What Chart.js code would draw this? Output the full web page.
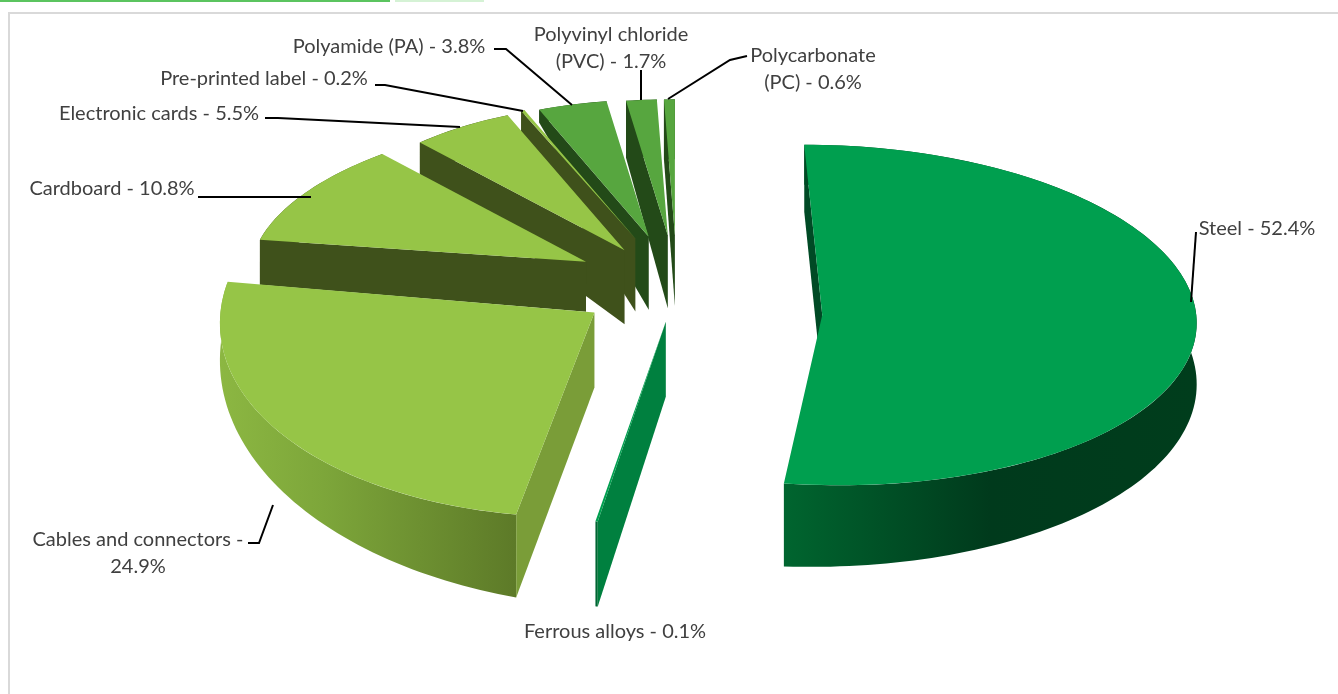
<!DOCTYPE html>
<html>
<head>
<meta charset="utf-8">
<style>
  html, body { margin: 0; padding: 0; background: #fff; }
  canvas { display: block; }
</style>
<script src="https://cdn.jsdelivr.net/npm/chart.js@4"></script>
</head>
<body>
<canvas id="myChart" width="1338" height="694"></canvas>
<script>
// data
const categories = ['Steel', 'Ferrous alloys', 'Cables and connectors', 'Cardboard', 'Electronic cards', 'Pre-printed label', 'Polyamide (PA)', 'Polyvinyl chloride (PVC)', 'Polycarbonate (PC)']
const shares = [52.4, 0.1, 24.9, 10.8, 5.5, 0.2, 3.8, 1.7, 0.6]

// slice look
const topColors = ['#009f4f', '#00a050', '#96c547', '#96c547', '#96c547', '#96c547', '#57a63f', '#57a63f', '#57a63f']
const sideColors = ['#004a25', '#00803f', '#7a9d38', '#3f511b', '#3f511b', '#3f511b', '#234a18', '#234a18', '#234a18']
const rimStops = [
  [['#00652f', 0], ['#003a1c', 0.5], ['#003d1c', 1]],
  [['#006633', 0], ['#006633', 1]],
  [['#8cb742', 0], ['#7da63a', 0.35], ['#5d7a28', 1]],
  null, null, null, null, null, null
]
// explosion as a share of the radius. the library's own offset eats thin slices so it is done here
const explode = [0.36, 0.3, 0.3, 0.3, 0.3, 0.3, 0.3, 0.3, 0.3]

// tweaks for the excel 3d camera
const nudgeX = [3, -2, 0, 0, 0, -7, -7, -7, -8]
const nudgeY = [31, -9, 3, 5, 11, 3, 3, 3, 3]
const sliceShear = [18, -12, -20, -30, 0, 0, 0, 0, 0]
const sliceStretch = [1.01, 0.92, 1.05, 1, 1.1, 1.06, 1.06, 1.06, 1.06]
const apexDepth = [70, 75, 75, 50, 74, 73, 73, 73, 71]
const startDepth = [67, 85, 83, 45, 32, 21, 13, 57, 60]
const rimStartDepth = [40, 85, 83, 45, 32, 21, 13, 57, 60]
const rimEndDepth = [83, 85, 30, 45, 32, 21, 13, 57, 60]

// labels
const labelLines = [
  ['Steel - 52.4%'],
  ['Ferrous alloys - 0.1%'],
  ['Cables and connectors -', '24.9%'],
  ['Cardboard - 10.8%'],
  ['Electronic cards - 5.5%'],
  ['Pre-printed label - 0.2%'],
  ['Polyamide (PA) - 3.8%'],
  ['Polyvinyl chloride', '(PVC) - 1.7%'],
  ['Polycarbonate', '(PC) - 0.6%']
]
const labelX = [1257, 615, 138, 112, 159, 264, 389, 611, 813]
const labelY = [229, 632, 540, 189, 114, 79, 47, 35, 56]
const leaderPaths = [
  [[1196, 232], [1191, 302]],
  [],
  [[248, 543], [259, 543], [273, 505]],
  [[198, 197], [311, 197]],
  [[265, 118], [278, 118], [460, 127]],
  [[375, 85], [385, 85], [523, 111]],
  [[494, 49], [506, 49], [572, 105]],
  [[641, 70], [641, 100]],
  [[747, 56], [730, 60], [668, 99]]
]

const X0 = 685, Y0 = 279.5, RX = 374, KY = 165, BEND = 0.15

function sliceMap(arc, i) {
  let mid = (arc.startAngle + arc.endAngle) / 2
  let R = arc.outerRadius
  let Ua = Math.cos(mid) * explode[i]
  let Va = Math.sin(mid) * explode[i]
  let Vc = Va + 0.6 * Math.sin(mid)

  let sx = RX * (1 + 0.25 * Math.min(0, Vc)) / R
  let sy = sliceStretch[i] * KY / Math.pow(1 - BEND * Vc, 2) / R
  let k = sliceShear[i] / R
  let px = X0 + RX * Ua + nudgeX[i]
  let py = Y0 + KY * Va / (1 - BEND * Va) + nudgeY[i]

  return {
    R, sx, sy, k, px, py,
    rim: (a) => [px + sx * R * Math.cos(a) + k * R * Math.sin(a), py + sy * R * Math.sin(a)]
  }
}

function fillPoly(ctx, pts, fill) {
  ctx.fillStyle = fill
  ctx.beginPath()
  pts.forEach((p, n) => n ? ctx.lineTo(p[0], p[1]) : ctx.moveTo(p[0], p[1]))
  ctx.closePath()
  ctx.fill()
}

function drawSlice(ctx, arc, i) {
  let m = sliceMap(arc, i)
  let steps = Math.max(4, Math.ceil((arc.endAngle - arc.startAngle) * 40))

  // outer rim
  let upper = [], lower = []
  for(let n = 0; n <= steps; n++) {
    let p = m.rim(arc.startAngle + (arc.endAngle - arc.startAngle) * n / steps)
    upper.push(p)
    lower.unshift([p[0], p[1] + rimStartDepth[i] + (rimEndDepth[i] - rimStartDepth[i]) * n / steps])
  }
  let rimFill = sideColors[i]
  if(rimStops[i]) {
    let xs = upper.map(p => p[0])
    rimFill = ctx.createLinearGradient(Math.min(...xs), 0, Math.max(...xs), 0)
    rimStops[i].forEach(s => rimFill.addColorStop(s[1], s[0]))
  }
  fillPoly(ctx, upper.concat(lower), rimFill)

  // radial wall on the start side
  let corner = m.rim(arc.startAngle)
  fillPoly(ctx, [
    [m.px, m.py],
    corner,
    [corner[0], corner[1] + startDepth[i]],
    [m.px, m.py + apexDepth[i]]
  ], sideColors[i])

  // top face is the library's own arc, squashed into this slice's view
  ctx.save()
  ctx.transform(m.sx, 0, m.k, m.sy, m.px - m.sx * arc.x - m.k * arc.y, m.py - m.sy * arc.y)
  arc.draw(ctx)
  ctx.restore()
}

const pie3d = {
  id: 'pie3d',
  beforeDraw(chart) {
    let ctx = chart.ctx
    // page furniture round the chart
    ctx.fillStyle = '#5bc45f'
    ctx.fillRect(0, 0, 390, 2)
    ctx.fillStyle = '#d5f2d5'
    ctx.fillRect(395, 0, 89, 2)
    ctx.fillStyle = '#d9d9d9'
    ctx.fillRect(8, 12, 1330, 2)
    ctx.fillRect(8, 12, 2, 682)
  },
  beforeDatasetDraw(chart) {
    let arcs = chart.getDatasetMeta(0).data
    for(let i = arcs.length - 1; i >= 0; i--) drawSlice(chart.ctx, arcs[i], i)
    return false
  },
  afterDatasetsDraw(chart) {
    let ctx = chart.ctx
    ctx.save()
    ctx.strokeStyle = '#000'
    ctx.lineWidth = 2
    leaderPaths.forEach(path => {
      ctx.beginPath()
      path.forEach((p, n) => n ? ctx.lineTo(p[0], p[1]) : ctx.moveTo(p[0], p[1]))
      ctx.stroke()
    })
    ctx.fillStyle = '#404040'
    ctx.font = '20px Lato'
    ctx.textAlign = 'center'
    ctx.textBaseline = 'middle'
    labelLines.forEach((lines, i) => {
      lines.forEach((line, n) => ctx.fillText(line, labelX[i], labelY[i] + n * 26.5))
    })
    ctx.restore()
  }
}

new Chart(document.getElementById('myChart'), {
  type: 'pie',
  data: {
    labels: categories,
    datasets: [{
      data: shares,
      backgroundColor: topColors,
      borderWidth: 0
    }]
  },
  options: {
    responsive: false,
    animation: false,
    events: [],
    radius: 300,
    plugins: { legend: { display: false }, tooltip: { enabled: false } }
  },
  plugins: [pie3d]
})
</script>
</body>
</html>
